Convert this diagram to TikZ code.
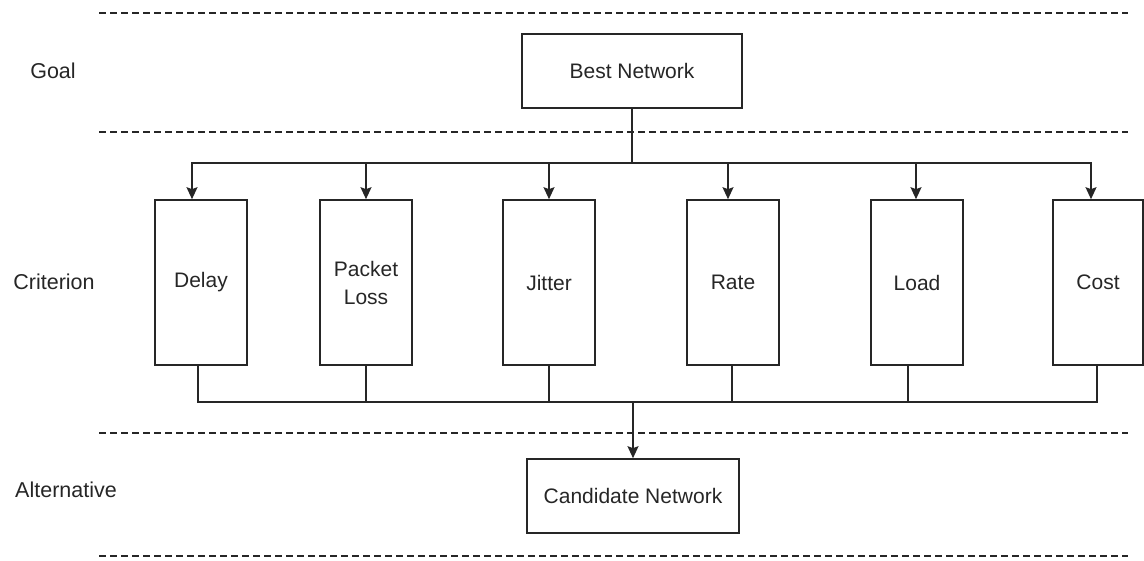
\documentclass[tikz,border=0pt]{standalone}
\usepackage{fontspec}
\setmainfont{Liberation Sans}
\usetikzlibrary{arrows.meta}
\begin{document}
\begin{tikzpicture}[x=1pt,y=-1pt,
  every node/.style={font=\fontsize{21}{28}\selectfont, text=black!85},
  boxnode/.style={draw=black!85, line width=1.6pt, inner sep=0pt, align=center},
  crit/.style={boxnode, minimum width=92pt, minimum height=165pt},
  lvl/.style={draw=black!85, line width=1.5pt, dash pattern=on 7pt off 4pt},
  conn/.style={draw=black!85, line width=1.6pt},
  arr/.style={conn, -{Stealth[length=12pt,width=11pt,inset=2pt]}},
  lbl/.style={font=\fontsize{21.5}{26}\selectfont}]
\useasboundingbox (0,0) rectangle (1144,561);
% level separators
\draw[lvl] (99,13) -- (1128,13);
\draw[lvl] (99,132) -- (1128,132);
\draw[lvl] (99,433) -- (1128,433);
\draw[lvl] (99,556) -- (1128,556);
% level labels
\node[lbl] (goal) at (53,71) {Goal};
\node[lbl] (criterion) at (54,282) {Criterion};
\node[lbl] (alternative) at (66,490) {Alternative};
% nodes
\node[boxnode, minimum width=220pt, minimum height=74pt] (best) at (632,71) {Best Network};
\node[crit] (delay) at (201,282.5) {Delay};
\node[crit] (packet) at (366,282.5) {Packet\\Loss};
\node[crit] (jitter) at (549,282.5) {Jitter};
\node[crit] (rate) at (733,282.5) {Rate};
\node[crit] (load) at (917,282.5) {Load};
\node[crit, minimum width=90pt] (cost) at (1098,282.5) {Cost};
\node[boxnode, minimum width=212pt, minimum height=74pt] (cand) at (633,496) {Candidate Network};
% junctions
\coordinate (ttop) at (632,163);
\coordinate (bj) at (633,402);
% goal to criteria
\draw[arr] (best.south) -- (ttop) -| ([xshift=-9pt]delay.north);
\draw[arr] (best.south) -- (ttop) -| (packet.north);
\draw[arr] (best.south) -- (ttop) -| (jitter.north);
\draw[arr] (best.south) -- (ttop) -| ([xshift=-5pt]rate.north);
\draw[arr] (best.south) -- (ttop) -| ([xshift=-1pt]load.north);
\draw[arr] (best.south) -- (ttop) -| ([xshift=-7pt]cost.north);
% criteria to alternative
\draw[conn] ([xshift=-3pt]delay.south) |- (bj);
\draw[conn] (packet.south) |- (bj);
\draw[conn] (jitter.south) |- (bj);
\draw[conn] ([xshift=-1pt]rate.south) |- (bj);
\draw[conn] ([xshift=-9pt]load.south) |- (bj);
\draw[conn] ([xshift=-1pt]cost.south) |- (bj);
\draw[arr] (bj) -- (cand.north);
\end{tikzpicture}
\end{document}
